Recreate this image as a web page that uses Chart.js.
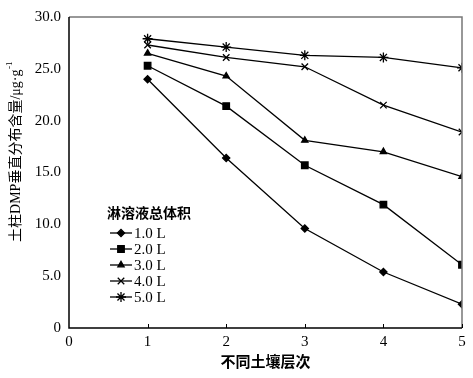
<!DOCTYPE html>
<html>
<head>
<meta charset="utf-8">
<script src="https://cdn.jsdelivr.net/npm/chart.js@4/dist/chart.umd.min.js"></script>
<style>
html,body{margin:0;padding:0;background:#fff;}
#wrap{width:473px;height:378px;position:relative;}
</style>
</head>
<body>
<div id="wrap"><canvas id="c" width="473" height="378"></canvas></div>
<script>
const layers = [1, 2, 3, 4, 5];
const seriesNames = ['1.0 L', '2.0 L', '3.0 L', '4.0 L', '5.0 L'];
const v10 = [24.0, 16.4, 9.6, 5.4, 2.3];
const v20 = [25.3, 21.4, 15.7, 11.9, 6.1];
const v30 = [26.5, 24.3, 18.1, 17.0, 14.6];
const v40 = [27.3, 26.1, 25.2, 21.5, 18.9];
const v50 = [27.9, 27.1, 26.3, 26.1, 25.1];
const xTicks = [0, 1, 2, 3, 4, 5];
const yTicks = [0, 5, 10, 15, 20, 25, 30];
const legendTitle = '淋溶液总体积';
const xTitle = '不同土壤层次';
const yTitleMain = '土柱DMP垂直分布含量/μg·g';
const yTitleSup = '-1';

const SERIF = '"Liberation Serif", "Times New Roman", "Noto Sans CJK SC", serif';
const styles = [
  {pointStyle: 'rectRot', radius: 3.6},
  {pointStyle: 'rect', radius: 4.6},
  {pointStyle: 'triangle', radius: 3.6},
  {pointStyle: 'crossRot', radius: 4.6},
  {pointStyle: 'star', radius: 5}
];
const allVals = [v10, v20, v30, v40, v50];
const datasets = allVals.map((vals, i) => ({
  label: seriesNames[i],
  data: layers.map((x, j) => ({x: x, y: vals[j]})),
  borderColor: '#000',
  backgroundColor: '#000',
  borderWidth: 1.3,
  pointStyle: styles[i].pointStyle,
  pointRadius: styles[i].radius,
  pointBorderWidth: 1.3,
  pointBorderColor: '#000',
  pointBackgroundColor: '#000',
  tension: 0,
  fill: false
}));

const decor = {
  id: 'decor',
  afterDraw(chart) {
    const ctx = chart.ctx;
    const a = chart.chartArea;
    const xs = chart.scales.x;
    ctx.save();
    // frame
    ctx.lineWidth = 1.5;
    ctx.strokeStyle = '#777';
    ctx.beginPath();
    ctx.moveTo(a.left, a.top); ctx.lineTo(a.right, a.top); ctx.lineTo(a.right, a.bottom);
    ctx.stroke();
    ctx.strokeStyle = '#000';
    ctx.beginPath();
    ctx.moveTo(a.left, a.top); ctx.lineTo(a.left, a.bottom); ctx.lineTo(a.right, a.bottom);
    ctx.stroke();
    // inward x ticks
    ctx.lineWidth = 1;
    ctx.beginPath();
    xTicks.forEach(t => {
      if (t === 0) return;
      const px = Math.round(xs.getPixelForValue(t)) + 0.5;
      ctx.moveTo(px, a.bottom); ctx.lineTo(px, a.bottom - 4);
    });
    ctx.stroke();
    // y title
    ctx.fillStyle = '#000';
    ctx.translate(16, 152);
    ctx.rotate(-Math.PI / 2);
    ctx.font = '14px ' + SERIF;
    const w1 = ctx.measureText(yTitleMain).width;
    ctx.font = '9px ' + SERIF;
    const w2 = ctx.measureText(yTitleSup).width;
    let sx = -(w1 + w2) / 2;
    ctx.textBaseline = 'middle';
    ctx.textAlign = 'left';
    ctx.font = '14px ' + SERIF;
    ctx.fillText(yTitleMain, sx, 0);
    ctx.font = '9px ' + SERIF;
    ctx.fillText(yTitleSup, sx + w1 + 0.5, -6);
    ctx.restore();

    // legend
    ctx.save();
    ctx.fillStyle = '#000';
    ctx.textBaseline = 'middle';
    ctx.textAlign = 'left';
    ctx.font = 'bold 14px "Noto Sans CJK SC", sans-serif';
    ctx.fillText(legendTitle, 107, 213);
    const rowY = [233, 249, 265, 281, 297];
    chart.data.datasets.forEach((ds, i) => {
      const y = rowY[i];
      ctx.strokeStyle = '#000';
      ctx.lineWidth = 1.3;
      ctx.beginPath();
      ctx.moveTo(110, y); ctx.lineTo(132, y);
      ctx.stroke();
      Chart.helpers.drawPoint(ctx, {pointStyle: ds.pointStyle, radius: ds.pointRadius, borderWidth: 1.3, rotation: 0}, 121, y);
      ctx.font = '15px ' + SERIF;
      ctx.fillText(ds.label, 134, y + 1);
    });
    ctx.restore();
  }
};

Chart.defaults.font.family = SERIF;
Chart.defaults.color = '#000';

new Chart(document.getElementById('c'), {
  type: 'line',
  data: {datasets: datasets},
  options: {
    responsive: false,
    animation: false,
    devicePixelRatio: 1,
    layout: {padding: {top: 17, right: 11, left: 0, bottom: 0}},
    plugins: {legend: {display: false}, tooltip: {enabled: false}, title: {display: false}},
    scales: {
      x: {
        type: 'linear', min: 0, max: 5,
        afterBuildTicks: s => { s.ticks = xTicks.map(v => ({value: v})); },
        afterFit: s => { s.height = 50; },
        grid: {display: false, drawTicks: false},
        border: {display: false},
        ticks: {padding: 5, font: {size: 15, family: SERIF}, color: '#000', maxRotation: 0,
          callback: v => String(v)},
        title: {display: true, text: xTitle, font: {size: 15, weight: 'bold', family: '"Noto Sans CJK SC", sans-serif'}, color: '#000', padding: {top: 0, bottom: 8}}
      },
      y: {
        type: 'linear', min: 0, max: 30,
        afterBuildTicks: s => { s.ticks = yTicks.map(v => ({value: v})); },
        afterFit: s => { s.width = 69; },
        grid: {display: false, drawTicks: false},
        border: {display: false},
        ticks: {padding: 8, font: {size: 15, family: SERIF}, color: '#000',
          callback: v => v === 0 ? '0' : v.toFixed(1)}
      }
    }
  },
  plugins: [decor]
});
</script>
</body>
</html>
